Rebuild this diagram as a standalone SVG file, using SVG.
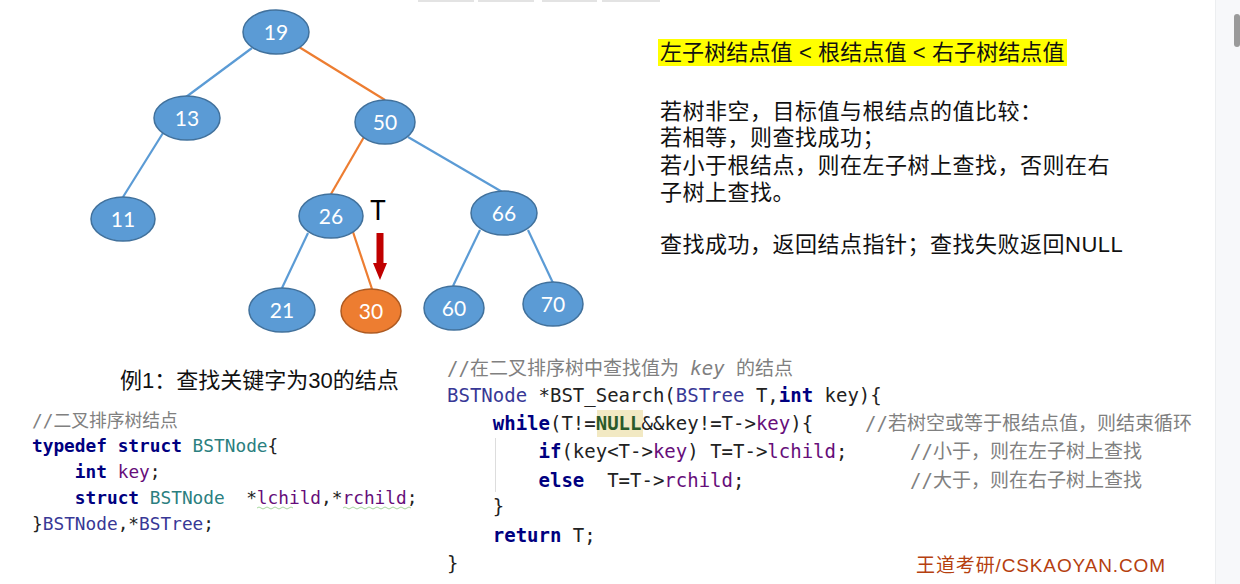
<svg xmlns="http://www.w3.org/2000/svg" width="1240" height="584" viewBox="0 0 1240 584">
<style>
.node ellipse{fill:#5B9BD5;stroke:#41719C;stroke-width:1.5}
.node.hit ellipse{fill:#ED7D31;stroke:#AE5A21}
.node text{font-family:Lato,"Open Sans",sans-serif;font-size:21px;fill:#fff;text-anchor:middle}
.eb{stroke:#5B9BD5;stroke-width:2.2;fill:none}
.eo{stroke:#ED7D31;stroke-width:2.2;fill:none}
.cn{font-family:"Liberation Sans","Noto Sans CJK SC",sans-serif;font-size:22px;fill:#111;letter-spacing:0.5px}
.code{font-family:"DejaVu Sans Mono","Noto Sans CJK SC",monospace;fill:#222;white-space:pre}
.l{font-size:17.8px}
.r{font-size:19px}
.kw{fill:#000080;font-weight:bold}
.ty{fill:#383896}
.st{fill:#2b7f7f}
.fd{fill:#660e7a}
.cm{fill:#808080}
.nl{fill:#2a5a2a;font-weight:bold}
</style>
<rect width="1240" height="584" fill="#fff"/>
<g id="tabs" fill="#e3e3e3">
<rect x="418" y="0" width="56" height="2"/><rect x="478" y="0" width="56" height="2"/><rect x="542" y="0" width="55" height="2"/><rect x="602" y="0" width="58" height="2"/>
</g>
<g id="scrollbar">
<rect x="1215" y="0" width="25" height="584" fill="#f7f8fa"/>
<line x1="1215.5" y1="0" x2="1215.5" y2="584" stroke="#eceef0"/>
<rect x="1234" y="14" width="6" height="33" rx="3" fill="#9a9a9a"/>
</g>
<g id="connectors">
<line class="eb" x1="252" y1="48" x2="186" y2="97"/>
<line class="eo" x1="299" y1="47" x2="385" y2="100"/>
<line class="eb" x1="163" y1="133" x2="123" y2="197"/>
<line class="eo" x1="364" y1="137" x2="331" y2="194"/>
<line class="eb" x1="408" y1="137" x2="504" y2="193"/>
<line class="eb" x1="308" y1="233" x2="282" y2="288"/>
<line class="eo" x1="353" y1="232" x2="372" y2="289"/>
<line class="eb" x1="480" y1="230" x2="453" y2="286"/>
<line class="eb" x1="528" y1="230" x2="553" y2="283"/>
</g>
<g id="n19" class="node"><ellipse cx="276" cy="32" rx="33" ry="22"/><text x="276" y="39.5">19</text></g>
<g id="n13" class="node"><ellipse cx="187" cy="118" rx="33" ry="22"/><text x="187" y="125.5">13</text></g>
<g id="n50" class="node"><ellipse cx="385" cy="122" rx="30" ry="22"/><text x="385" y="129.5">50</text></g>
<g id="n11" class="node"><ellipse cx="123" cy="219" rx="32" ry="22"/><text x="123" y="226.5">11</text></g>
<g id="n26" class="node"><ellipse cx="331" cy="216" rx="32" ry="22"/><text x="331" y="223.5">26</text></g>
<g id="n66" class="node"><ellipse cx="504" cy="213" rx="33" ry="22"/><text x="504" y="220.5">66</text></g>
<g id="n21" class="node"><ellipse cx="282" cy="310" rx="33" ry="22"/><text x="282" y="317.5">21</text></g>
<g id="n30" class="node hit"><ellipse cx="371" cy="311" rx="30" ry="22"/><text x="371" y="318.5">30</text></g>
<g id="n60" class="node"><ellipse cx="454" cy="308" rx="30" ry="22"/><text x="454" y="315.5">60</text></g>
<g id="n70" class="node"><ellipse cx="553" cy="304" rx="30" ry="22"/><text x="553" y="311.5">70</text></g>
<g id="pointer">
<text x="378" y="220" font-family="Lato,'Open Sans',sans-serif" font-size="26" text-anchor="middle" fill="#000">T</text>
<polygon points="376.5,233 383.5,233 383.5,263 387,263 380,280 373,263 376.5,263" fill="#C00000"/>
</g>
<g id="rules">
<rect x="658" y="39" width="409" height="27" fill="#FFFF00"/>
<text class="cn" x="660" y="60" textLength="405" lengthAdjust="spacing">左子树结点值 &lt; 根结点值 &lt; 右子树结点值</text>
<text class="cn" x="660" y="119">若树非空，目标值与根结点的值比较：</text>
<text class="cn" x="660" y="145">若相等，则查找成功；</text>
<text class="cn" x="660" y="173">若小于根结点，则在左子树上查找，否则在右</text>
<text class="cn" x="660" y="200">子树上查找。</text>
<text class="cn" x="660" y="252">查找成功，返回结点指针；查找失败返回NULL</text>
</g>
<g id="example">
<text x="120" y="388" font-family="'Liberation Sans','Noto Sans CJK SC',sans-serif" font-size="22" fill="#111">例1：查找关键字为30的结点</text>
</g>
<g id="struct-code">
<text class="code l" x="32" y="427"><tspan class="cm">//二叉排序树结点</tspan></text>
<text class="code l" x="32" y="452"><tspan class="kw">typedef</tspan> <tspan class="kw">struct</tspan> <tspan class="st">BSTNode</tspan>{</text>
<text class="code l" x="32" y="478">    <tspan class="kw">int</tspan> <tspan class="fd">key</tspan>;</text>
<text class="code l" x="32" y="504">    <tspan class="kw">struct</tspan> <tspan class="st">BSTNode</tspan>  *<tspan class="fd">lchild</tspan>,*<tspan class="fd">rchild</tspan>;</text>
<text class="code l" x="32" y="530">}<tspan class="ty">BSTNode</tspan>,*<tspan class="ty">BSTree</tspan>;</text>
<path d="M257 508 q2 -2 4 0 t4 0 t4 0 t4 0 t4 0 t4 0 t4 0 t4 0 t4 0 M343 508 q2 -2 4 0 t4 0 t4 0 t4 0 t4 0 t4 0 t4 0 t4 0 t4 0 t4 0 t4 0 t4 0 t4 0 t4 0 t4 0 t4 0 t4 0" fill="none" stroke="#a8d8a0" stroke-width="1"/>
</g>
<g id="search-code">
<rect x="597" y="410" width="46" height="27" fill="#f2e9c3"/>
<line x1="495.5" y1="438" x2="495.5" y2="492" stroke="#dddddd" stroke-width="1"/>
<text class="code r" x="447" y="375"><tspan class="cm">//在二叉排序树中查找值为 <tspan font-style="italic">key</tspan> 的结点</tspan></text>
<text class="code r" x="447" y="402"><tspan class="ty">BSTNode</tspan> *BST_Search(<tspan class="ty">BSTree</tspan> T,<tspan class="kw">int</tspan> key){</text>
<text class="code r" x="447" y="430">    <tspan class="kw">while</tspan>(T!=<tspan class="nl">NULL</tspan>&amp;&amp;key!=T-&gt;<tspan class="fd">key</tspan>){</text>
<text class="code r cm" x="865" y="430">//若树空或等于根结点值，则结束循环</text>
<text class="code r" x="447" y="458">        <tspan class="kw">if</tspan>(key&lt;T-&gt;<tspan class="fd">key</tspan>) T=T-&gt;<tspan class="fd">lchild</tspan>;</text>
<text class="code r cm" x="910" y="458">//小于，则在左子树上查找</text>
<text class="code r" x="447" y="487">        <tspan class="kw">else</tspan>  T=T-&gt;<tspan class="fd">rchild</tspan>;</text>
<text class="code r cm" x="910" y="487">//大于，则在右子树上查找</text>
<text class="code r" x="447" y="513">    }</text>
<text class="code r" x="447" y="542">    <tspan class="kw">return</tspan> T;</text>
<text class="code r" x="447" y="570">}</text>
</g>
<g id="credit">
<text x="916" y="572" font-family="'Liberation Sans','Noto Sans CJK SC',sans-serif" font-size="19" fill="#B5400F" textLength="249" lengthAdjust="spacing">王道考研/CSKAOYAN.COM</text>
</g>
</svg>
